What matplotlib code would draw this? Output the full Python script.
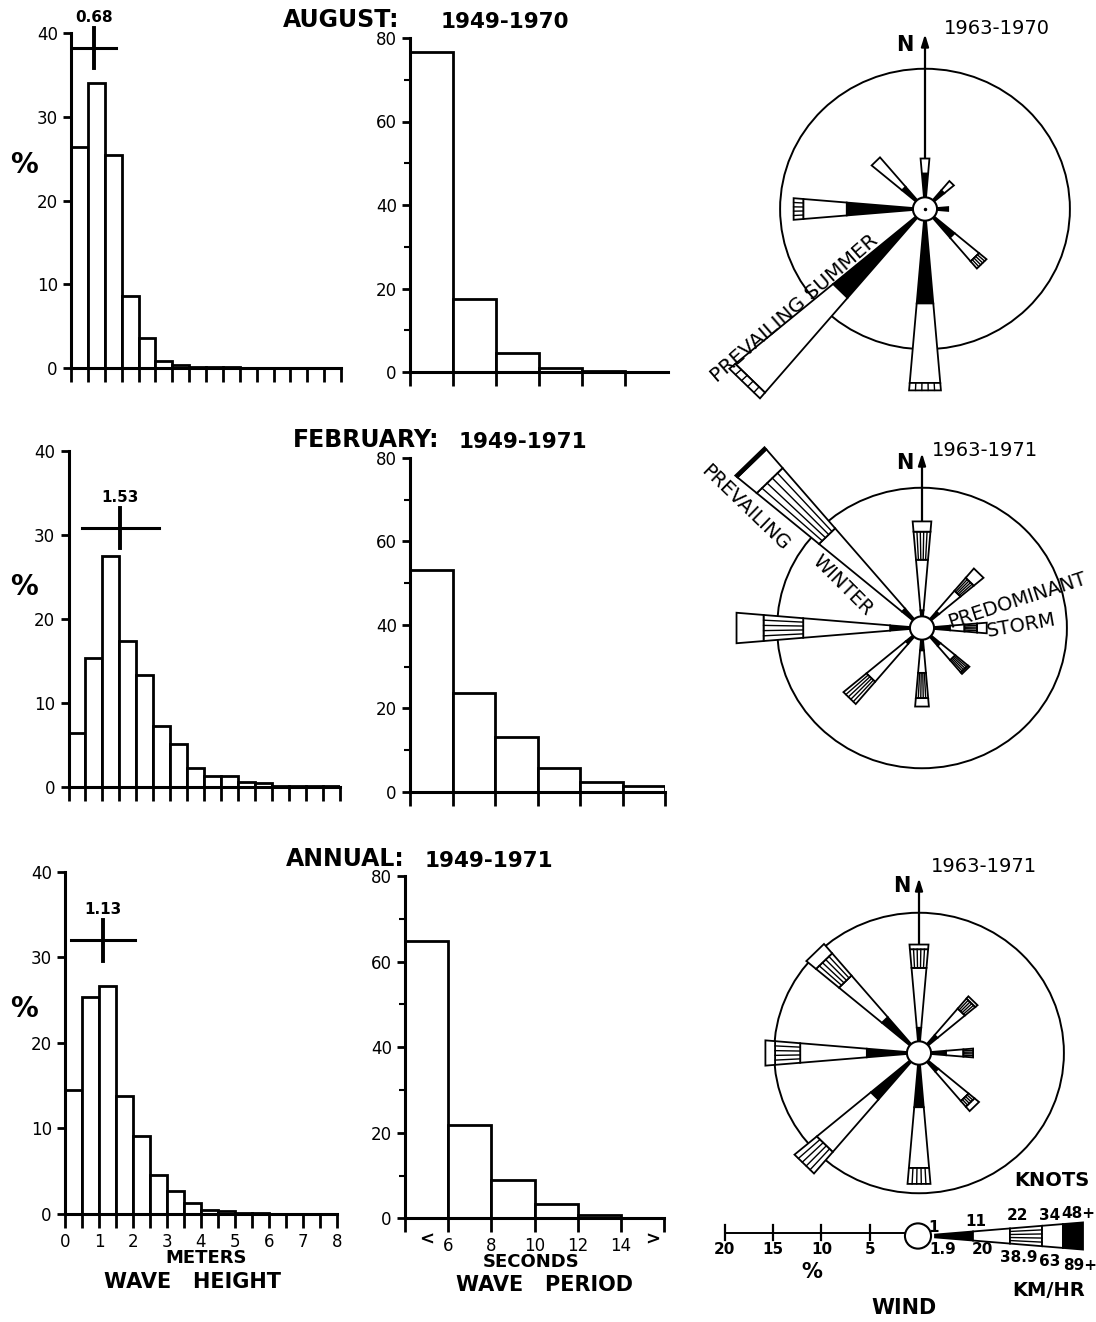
import numpy as np
import matplotlib
matplotlib.use("Agg")
import matplotlib.pyplot as plt
from matplotlib.patches import Polygon, Circle

plt.rcParams['font.family'] = ['DejaVu Sans']

# ---------------- data ----------------
# wave height histograms (% per 0.5 m bin, 0..8 m)
height_bin_left = [0.0, 0.5, 1.0, 1.5, 2.0, 2.5, 3.0, 3.5, 4.0, 4.5, 5.0, 5.5, 6.0, 6.5, 7.0, 7.5]
aug_height_pct = [26.4, 34.0, 25.4, 8.6, 3.6, 0.8, 0.4, 0.15, 0.1, 0.1, 0.05, 0.05, 0.0, 0.0, 0.0, 0.0]
feb_height_pct = [6.4, 15.4, 27.5, 17.4, 13.3, 7.3, 5.1, 2.3, 1.3, 1.3, 0.6, 0.5, 0.2, 0.15, 0.1, 0.1]
ann_height_pct = [14.5, 25.4, 26.6, 13.8, 9.1, 4.6, 2.7, 1.3, 0.5, 0.4, 0.15, 0.15, 0.05, 0.05, 0.05, 0.05]
height_tick_values = [0, 1, 2, 3, 4, 5, 6, 7, 8]
height_tick_labels = ['0', '1', '2', '3', '4', '5', '6', '7', '8']

# mean wave height marker: mean, horizontal spread, level (%)
mean_height = [0.68, 1.53, 1.13]
mean_label = ['0.68', '1.53', '1.13']
height_spread = [0.64, 1.14, 0.94]
cross_level = [38.2, 30.8, 32.0]

# wave period histograms (% per 2 s bin)
period_bin_left = [4, 6, 8, 10, 12, 14]
aug_period_pct = [76.7, 17.5, 4.6, 1.0, 0.3, 0.0]
feb_period_pct = [53.2, 23.6, 13.2, 5.6, 2.4, 1.4]
ann_period_pct = [64.9, 21.8, 8.9, 3.3, 0.8, 0.0]
period_tick_values = [4, 6, 8, 10, 12, 14, 16]
period_tick_labels = ['', '6', '8', '10', '12', '14', '']

# wind roses: cumulative % at end of each speed class (1-11, 11-22, 22-34, 34-48, 48+ knots)
directions = ['N', 'NE', 'E', 'SE', 'S', 'SW', 'W', 'NW']
compass_deg = [0, 45, 90, 135, 180, 225, 270, 315]
aug_wind = [[3.8, 5.4, 5.4, 5.4, 5.4],
            [2.6, 3.9, 3.9, 3.9, 3.9],
            [2.4, 2.4, 2.4, 2.4, 2.4],
            [4.0, 7.3, 8.3, 8.3, 8.3],
            [10.1, 18.6, 19.4, 19.4, 19.4],
            [12.4, 25.6, 26.4, 26.4, 26.4],
            [8.1, 12.6, 13.6, 13.6, 13.6],
            [3.1, 7.2, 7.2, 7.2, 7.2]]
feb_wind = [[1.9, 7.3, 10.3, 11.4, 11.4],
            [2.3, 5.2, 7.0, 8.3, 8.3],
            [2.9, 4.4, 5.7, 6.7, 6.7],
            [2.5, 4.5, 6.2, 6.4, 6.4],
            [2.4, 4.8, 7.5, 8.4, 8.4],
            [2.2, 7.5, 10.6, 10.6, 10.6],
            [3.3, 12.3, 16.4, 19.2, 19.2],
            [2.7, 13.9, 22.3, 24.9, 25.2]]
ann_wind = [[2.7, 9.1, 11.1, 11.6, 11.6],
            [2.5, 6.2, 7.6, 7.9, 7.9],
            [2.8, 4.6, 5.6, 5.6, 5.6],
            [2.6, 6.7, 7.5, 8.1, 8.1],
            [5.8, 12.3, 14.0, 14.0, 14.0],
            [6.5, 13.8, 16.8, 16.8, 16.8],
            [5.4, 12.3, 14.9, 15.9, 15.9],
            [5.0, 10.8, 13.9, 15.2, 15.2]]
rose_circle_pct = 15
legend_scale_pct = [20, 15, 10, 5]
legend_key_bounds = [1.76, 5.69, 9.52, 12.84, 15.0, 17.08]
knots_labels = ['1', '11', '22', '34', '48+']
kmhr_labels = ['1.9', '20', '38.9', '63', '89+']

# ---------------- layout helpers ----------------
W, H = 1096, 1322
fig = plt.figure(figsize=(W / 100, H / 100), dpi=100)


def px_axes(l, t, r, b):
    return fig.add_axes([l / W, 1 - b / H, (r - l) / W, (b - t) / H])


def style_hist(ax):
    for s in ['top', 'right']:
        ax.spines[s].set_visible(False)
    for s in ['left', 'bottom']:
        ax.spines[s].set_linewidth(2.2)
    ax.set_facecolor('none')


def height_panel(box, vals, k, show_labels):
    ax = px_axes(*box)
    style_hist(ax)
    ax.bar(height_bin_left, vals, width=0.5, align='edge', facecolor='white',
           edgecolor='black', linewidth=2.0, zorder=2)
    ax.set_xlim(0, 8)
    ax.set_ylim(0, 40)
    ax.set_yticks([0, 10, 20, 30, 40])
    ax.set_xticks(height_tick_values)
    ax.set_xticks(height_bin_left[1::2], minor=True)
    ax.tick_params(axis='x', which='both', direction='out', length=10, width=2,
                   labelsize=12)
    ax.tick_params(axis='y', direction='out', length=6, width=2, labelsize=12)
    if show_labels:
        ax.set_xticklabels(height_tick_labels)
    else:
        ax.set_xticklabels([])
    m, sp, lv = mean_height[k], height_spread[k], cross_level[k]
    ax.plot([m - sp, m + sp], [lv, lv], color='black', lw=2.2, clip_on=False, zorder=4)
    ax.plot([m, m], [lv - 2.4, lv + 2.4], color='black', lw=2.8, clip_on=False, zorder=4)
    ax.text(m, lv + 3.6, mean_label[k], ha='center', va='center', fontsize=11,
            fontweight='bold', clip_on=False)
    return ax


def period_panel(box, vals, show_labels, ticks):
    ax = px_axes(*box)
    style_hist(ax)
    ax.bar(period_bin_left, vals, width=2, align='edge', facecolor='white',
           edgecolor='black', linewidth=2.0, zorder=2)
    ax.set_xlim(4, 16)
    ax.set_ylim(0, 80)
    ax.set_yticks([0, 20, 40, 60, 80])
    ax.set_yticks([10, 30, 50, 70], minor=True)
    ax.set_xticks(ticks)
    ax.tick_params(axis='x', direction='out', length=10, width=2, labelsize=12)
    ax.tick_params(axis='y', which='major', direction='out', length=6, width=2, labelsize=12)
    ax.tick_params(axis='y', which='minor', direction='out', length=4, width=1.5)
    if show_labels:
        ax.set_xticklabels(period_tick_labels[:len(ticks)])
    else:
        ax.set_xticklabels([])
    return ax


# ---------------- histograms ----------------
height_panel((71, 33, 341, 368), aug_height_pct, 0, False)
height_panel((68.5, 450.7, 340, 787.3), feb_height_pct, 1, False)
height_panel((65, 871.7, 337, 1214), ann_height_pct, 2, True)

period_panel((410, 38, 668, 372), aug_period_pct, False, period_tick_values[:-1])
period_panel((410, 458, 665, 791.7), feb_period_pct, False, period_tick_values)
period_panel((405, 876, 664, 1218.3), ann_period_pct, True, period_tick_values)

# ---------------- wind roses ----------------
SX, SY = 9.66, 9.35
K = 0.085
CLASS_FILL = ['black', 'white', 'white', 'white', 'black']


def rose_axes(cx, cy, l, t, r, b):
    ax = px_axes(l, t, r, b)
    ax.set_xlim((l - cx) / SX, (r - cx) / SX)
    ax.set_ylim((cy - b) / SY, (cy - t) / SY)
    ax.axis('off')
    return ax


def draw_bar(ax, th, bounds, start=0.0):
    c, s = np.cos(th), np.sin(th)
    px, py = -s, c
    prev = start
    for i, b in enumerate(bounds):
        if b > prev + 1e-9:
            pts = [(prev * c + K * prev * px, prev * s + K * prev * py),
                   (b * c + K * b * px, b * s + K * b * py),
                   (b * c - K * b * px, b * s - K * b * py),
                   (prev * c - K * prev * px, prev * s - K * prev * py)]
            ax.add_patch(Polygon(pts, closed=True, fc=CLASS_FILL[i], ec='black',
                                 lw=1.3, zorder=3, clip_on=False))
            if i == 2:
                for f in (-0.6, -0.2, 0.2, 0.6):
                    ax.plot([prev * c + f * K * prev * px, b * c + f * K * b * px],
                            [prev * s + f * K * prev * py, b * s + f * K * b * py],
                            color='black', lw=1.0, zorder=3.5, clip_on=False)
        prev = max(prev, b)


def draw_rose(ax, wind, dot=False):
    ax.add_patch(Circle((0, 0), rose_circle_pct, fill=False, ec='black', lw=1.4,
                        zorder=1, clip_on=False))
    ax.annotate('', xy=(0, 18.7), xytext=(0, 0),
                arrowprops=dict(arrowstyle='-|>,head_length=0.7,head_width=0.22',
                                lw=1.6, color='black', shrinkA=0, shrinkB=0),
                zorder=2.5, annotation_clip=False)
    for deg, bounds in zip(compass_deg, wind):
        draw_bar(ax, np.deg2rad(90 - deg), bounds)
    ax.add_patch(Circle((0, 0), 1.25, fc='white', ec='black', lw=1.5, zorder=6,
                        clip_on=False))
    if dot:
        ax.plot([0], [0], marker='o', ms=1.5, color='black', zorder=7)


ra = rose_axes(925, 209, 690, 0, 1096, 418)
draw_rose(ra, aug_wind, dot=True)
rf = rose_axes(922, 628, 690, 418, 1096, 835)
draw_rose(rf, feb_wind)
rn = rose_axes(919, 1053, 690, 835, 1096, 1200)
draw_rose(rn, ann_wind)

# legend key
lg = rose_axes(918, 1236, 690, 1195, 1096, 1322)
lg.plot([-legend_scale_pct[0], -1.3], [0.37, 0.37], color='black', lw=1.4)
for v in legend_scale_pct:
    lg.plot([-v, -v], [0.37 - 0.8, 0.37 + 0.8], color='black', lw=1.6)
    lg.text(-v, -1.45, str(v), ha='center', va='center', fontsize=11, fontweight='bold')
draw_bar(lg, 0.0, legend_key_bounds[1:], start=legend_key_bounds[0])
lg.add_patch(Circle((0, 0), 1.35, fc='white', ec='black', lw=1.5, zorder=6, clip_on=False))

# ---------------- text overlay (pixel coordinates) ----------------
ov = fig.add_axes([0, 0, 1, 1])
ov.set_xlim(0, W)
ov.set_ylim(H, 0)
ov.axis('off')


def t(x, y, s, size, weight='normal', rot=0, **kw):
    ov.text(x, y, s, ha='center', va='center', fontsize=size, fontweight=weight,
            rotation=rot, rotation_mode='anchor', **kw)


# titles
t(341, 20, 'AUGUST:', 17, 'bold')
t(505, 22, '1949-1970', 15.5, 'bold')
t(366, 440, 'FEBRUARY:', 17, 'bold')
t(523, 442, '1949-1971', 15.5, 'bold')
t(345, 859, 'ANNUAL:', 17, 'bold')
t(489, 861, '1949-1971', 15.5, 'bold')

# % labels
for yy in (165, 587, 1009):
    t(24, yy, '%', 20, 'bold')

# axis titles
t(206, 1258, 'METERS', 13, 'bold')
t(193, 1282, 'WAVE   HEIGHT', 15, 'bold')
t(531, 1262, 'SECONDS', 13, 'bold')
t(544, 1285, 'WAVE   PERIOD', 15, 'bold')
t(427, 1240, '<', 13, 'bold')
t(653, 1240, '>', 13, 'bold')

# rose labels
t(905, 45, 'N', 15, 'bold')
t(997, 28, '1963-1970', 14)
t(794, 308, 'PREVAILING SUMMER', 14.5, rot=41)
t(905, 463, 'N', 15, 'bold')
t(985, 451, '1963-1971', 14)
t(745, 508, 'PREVAILING', 14, rot=-44)
t(843, 585, 'WINTER', 14, rot=-45)
t(1017, 600, 'PREDOMINANT', 14, rot=18)
t(1021, 626, 'STORM', 14, rot=10)
t(902, 886, 'N', 15, 'bold')
t(984, 866, '1963-1971', 14)

# legend labels
t(1052, 1180, 'KNOTS', 14, 'bold')
for x, y, s in zip([934, 976, 1018, 1050, 1078], [1228, 1222, 1216, 1215, 1213], knots_labels):
    t(x, y, s, 11, 'bold')
for x, y, s in zip([943, 982, 1019, 1050, 1080], [1250, 1250, 1257, 1262, 1265], kmhr_labels):
    t(x, y, s, 11, 'bold')
t(812, 1272, '%', 15, 'bold')
t(1049, 1290, 'KM/HR', 14, 'bold')
t(904, 1308, 'WIND', 15, 'bold')

fig.savefig('out.png', dpi=100)
